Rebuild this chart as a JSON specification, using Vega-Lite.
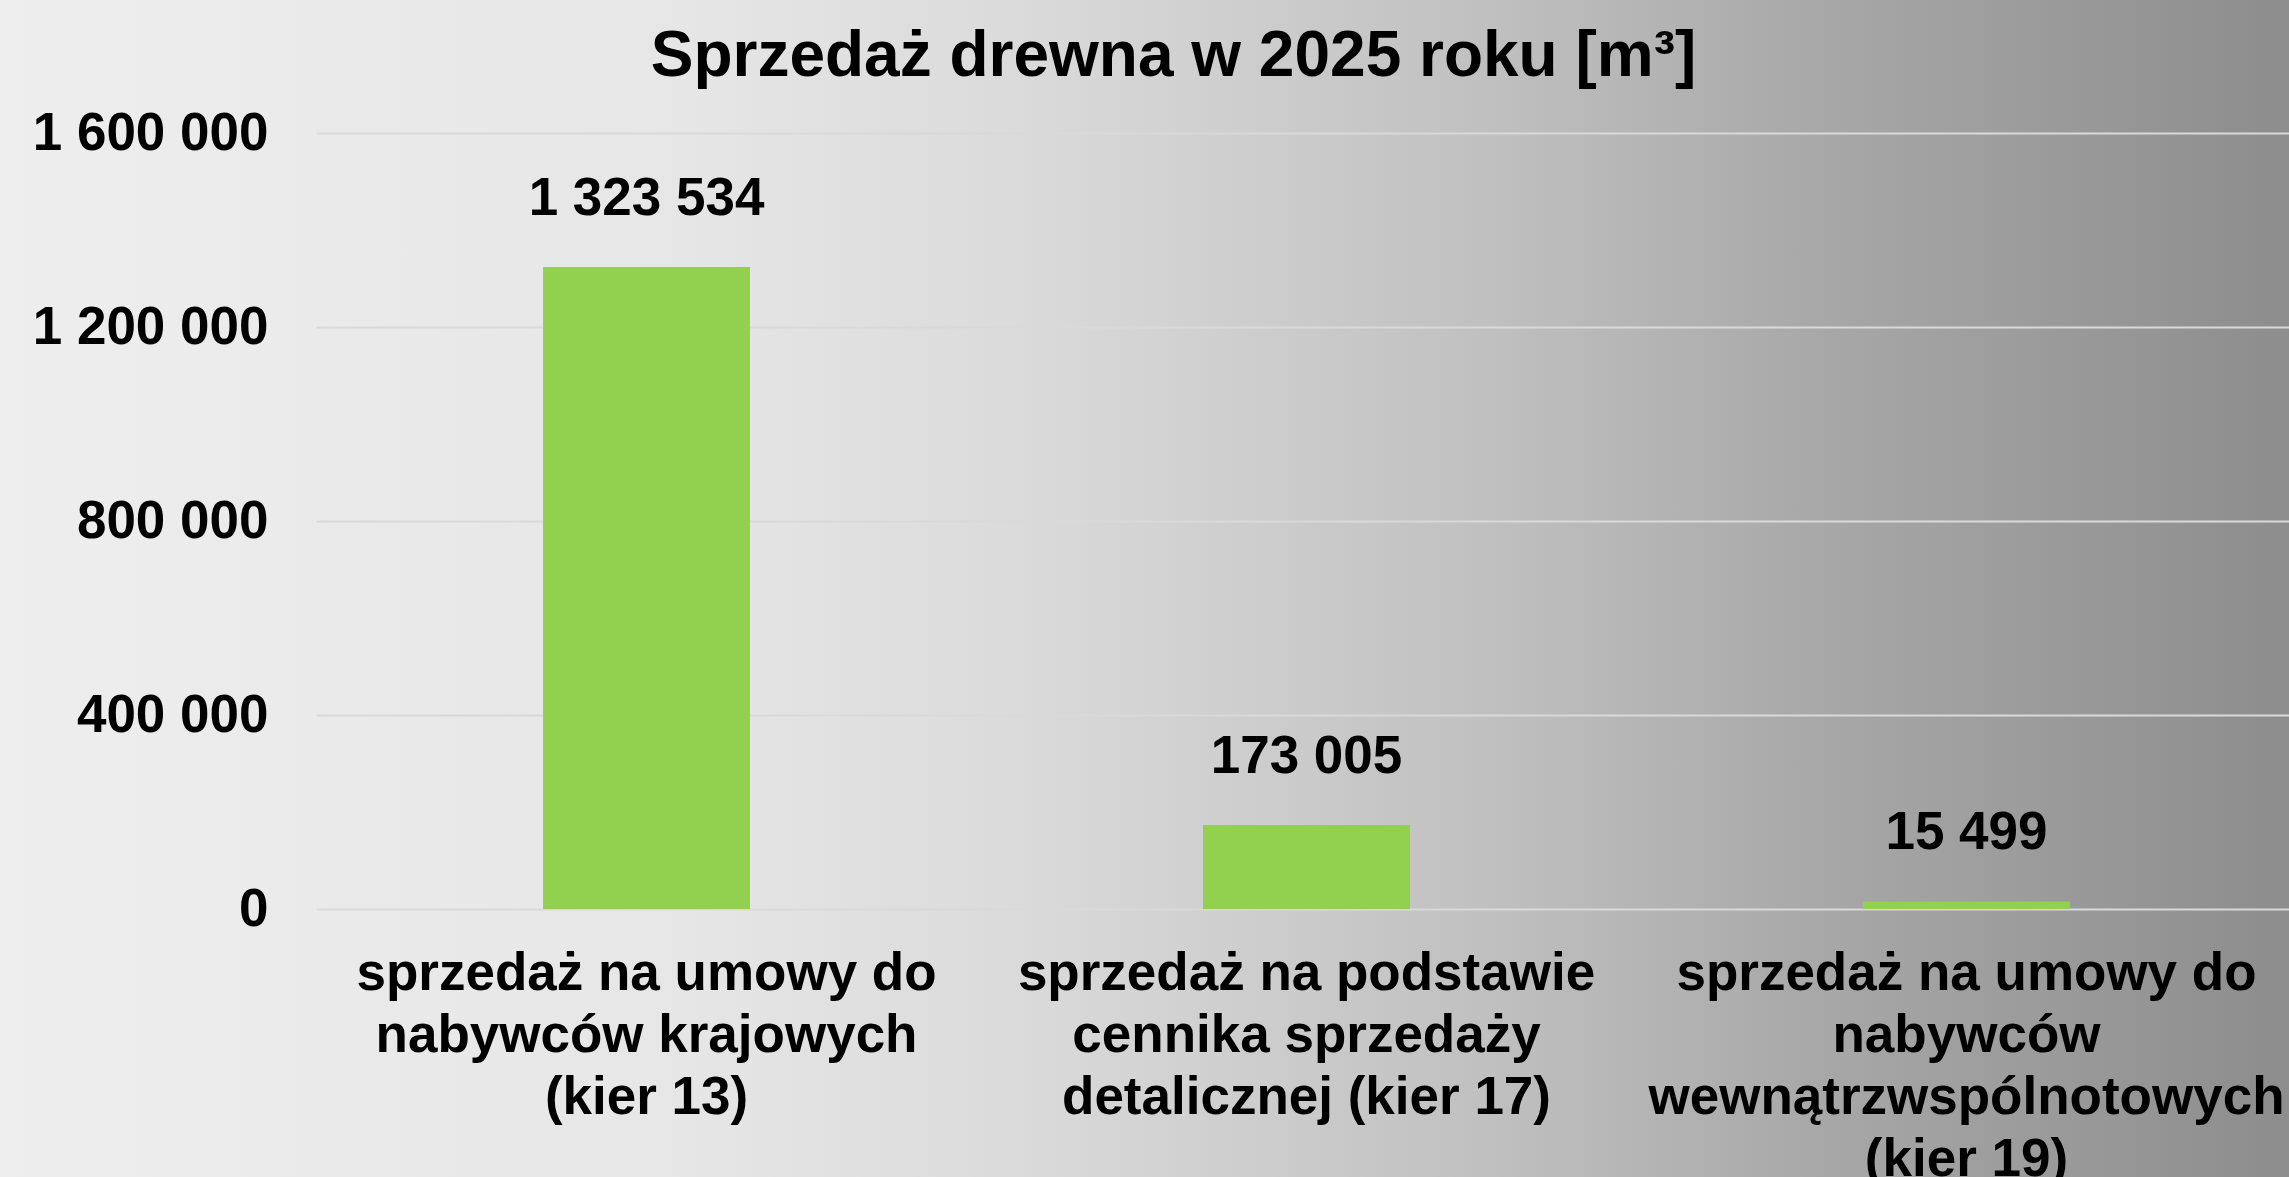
{
  "$schema": "https://vega.github.io/schema/vega-lite/v6.json",
  "width": 2289,
  "height": 1177,
  "autosize": {"type": "none"},
  "padding": 0,
  "background": "#e0e0e0",
  "view": {
    "stroke": null,
    "fill": {
      "gradient": "linear",
      "x1": 0, "y1": 0, "x2": 1, "y2": 0,
      "stops": [
        {"offset": 0, "color": "#eeeeee"},
        {"offset": 0.3, "color": "#e6e6e6"},
        {"offset": 0.45, "color": "#dadada"},
        {"offset": 0.55, "color": "#cdcdcd"},
        {"offset": 0.65, "color": "#c0c0c0"},
        {"offset": 0.8, "color": "#a7a7a7"},
        {"offset": 1, "color": "#8d8d8d"}
      ]
    }
  },
  "title": {
    "text": "Sprzedaż drewna w 2025 roku [m³]",
    "font": "Liberation Sans",
    "fontSize": 64,
    "fontWeight": "bold",
    "color": "#000000",
    "anchor": "middle",
    "frame": "group",
    "baseline": "alphabetic",
    "offset": -140,
    "dx": 29
  },
  "data": {
    "values": [
      {"kategoria": "sprzedaż na umowy do|nabywców krajowych|(kier 13)", "wartosc": 1323534},
      {"kategoria": "sprzedaż na podstawie|cennika sprzedaży|detalicznej (kier 17)", "wartosc": 173005},
      {"kategoria": "sprzedaż na umowy do|nabywców|wewnątrzwspólnotowych|(kier 19)", "wartosc": 15499}
    ]
  },
  "encoding": {
    "x": {
      "field": "kategoria",
      "type": "nominal",
      "sort": null,
      "scale": {"range": [316, 2297], "paddingInner": 0.6864, "paddingOuter": 0.344},
      "axis": {
        "title": null,
        "orient": "bottom",
        "offset": -268,
        "labelExpr": "split(datum.label, '|')",
        "labelAngle": 0,
        "labelFont": "Liberation Sans",
        "labelFontSize": 53,
        "labelFontWeight": "bold",
        "labelColor": "#000000",
        "labelPadding": 38,
        "labelLineHeight": 62,
        "labelBaseline": "top",
        "labelLimit": 0,
        "labelOverlap": false,
        "ticks": false,
        "domain": false,
        "grid": false
      }
    },
    "y": {
      "field": "wartosc",
      "type": "quantitative",
      "scale": {"domain": [0, 1600000], "range": [909, 133], "nice": false, "zero": true},
      "axis": {
        "title": null,
        "offset": -316,
        "values": [0, 400000, 800000, 1200000, 1600000],
        "format": ",.0f",
        "labelFont": "Liberation Sans",
        "labelFontSize": 53,
        "labelFontWeight": "bold",
        "labelColor": "#000000",
        "labelPadding": 48,
        "labelLimit": 0,
        "labelFlush": false,
        "labelOverlap": false,
        "ticks": false,
        "domain": false,
        "grid": true,
        "gridColor": "#d9d9d9",
        "gridWidth": 2
      }
    }
  },
  "layer": [
    {"mark": {"type": "bar", "color": "#92d050"}},
    {
      "mark": {
        "type": "text",
        "dy": -52,
        "baseline": "alphabetic",
        "font": "Liberation Sans",
        "fontSize": 53,
        "fontWeight": "bold",
        "color": "#000000"
      },
      "encoding": {
        "text": {"field": "wartosc", "type": "quantitative", "format": ",.0f"}
      }
    }
  ],
  "config": {
    "locale": {
      "number": {
        "decimal": ",",
        "thousands": " ",
        "grouping": [3],
        "currency": ["", " zł"]
      }
    }
  }
}
